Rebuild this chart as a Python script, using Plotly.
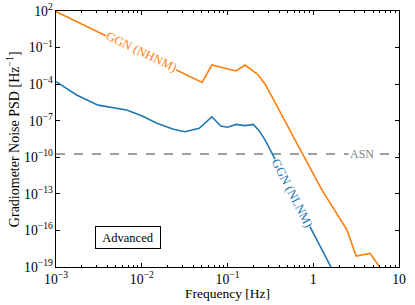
import plotly.graph_objects as go

# ---- data ----
nhnm_freq = [1e-3, 0.0506, 0.0656, 0.126, 0.16, 0.223, 0.275, 1.26, 2.47, 3.16, 4.6, 7.0]
nhnm_psd = [90, 1.4e-4, 3.7e-3, 1.2e-3, 3.7e-3, 6.8e-4, 1e-4, 2.1e-13, 1.1e-16, 8e-19, 1.3e-18, 2e-20]

nlnm_freq = [1e-3, 1.74e-3, 3.09e-3, 6.68e-3, 0.01, 0.015, 0.0234, 0.032, 0.0468, 0.0656,
             0.0836, 0.1, 0.126, 0.16, 0.2, 0.235, 0.275, 1.78]
nlnm_psd = [1.6e-4, 1.3e-5, 1.9e-6, 7.6e-7, 2.6e-7, 6.3e-8, 2e-8, 1.26e-8, 2.4e-8, 2.1e-7,
            3.7e-8, 2.9e-8, 5e-8, 4e-8, 5e-8, 1.45e-8, 2.6e-9, 2.5e-20]

asn_level = 1.9e-10
x_range = [1e-3, 10]

labels = {"nhnm": "GGN (NHNM)", "nlnm": "GGN (NLNM)", "asn": "ASN", "box": "Advanced"}
x_title = "Frequency [Hz]"
y_title = "Gradiometer Noise PSD [Hz<sup>−1</sup>]"

ORANGE = "#ff7f0e"
BLUE = "#1f77b4"
GRAY = "#808080"
FONT = "Liberation Serif"

fig = go.Figure()
fig.add_trace(go.Scatter(x=x_range, y=[asn_level, asn_level], mode="lines",
                         line=dict(color=GRAY, width=1.5, dash="dash"), showlegend=False))
fig.add_trace(go.Scatter(x=nlnm_freq, y=nlnm_psd, mode="lines",
                         line=dict(color=BLUE, width=1.6), showlegend=False))
fig.add_trace(go.Scatter(x=nhnm_freq, y=nhnm_psd, mode="lines",
                         line=dict(color=ORANGE, width=1.6), showlegend=False))

fig.add_annotation(x=-2.0, y=-1.35, xref="x", yref="y", text=labels["nhnm"], showarrow=False,
                   textangle=25.8, font=dict(color=ORANGE, size=12.5, family=FONT),
                   bgcolor="white", borderpad=0)
fig.add_annotation(x=-0.246, y=-12.9, xref="x", yref="y", text=labels["nlnm"], showarrow=False,
                   textangle=62.7, font=dict(color=BLUE, size=12.5, family=FONT),
                   bgcolor="white", borderpad=0)
fig.add_annotation(x=0.57, y=-9.72, xref="x", yref="y", text=labels["asn"], showarrow=False,
                   font=dict(color=GRAY, size=12, family=FONT), bgcolor="white", borderpad=1)
fig.add_annotation(x=0.115, y=0.072, xref="paper", yref="paper", text=labels["box"],
                   showarrow=False, font=dict(color="black", size=12.5, family=FONT),
                   bgcolor="white", bordercolor="black", borderwidth=1, borderpad=3,
                   width=58, height=15)

# axis titles placed as paper annotations for exact positioning
fig.add_annotation(x=0.5, y=-0.104, xref="paper", yref="paper", text=x_title, showarrow=False,
                   xanchor="center", yanchor="middle",
                   font=dict(color="black", size=13.5, family=FONT))
fig.add_annotation(x=-0.125, y=0.5, xref="paper", yref="paper", text=y_title, showarrow=False,
                   xanchor="center", yanchor="middle", textangle=-90,
                   font=dict(color="black", size=14, family=FONT))

axis_common = dict(type="log", showgrid=False, zeroline=False, showline=True, mirror="allticks",
                   linecolor="black", linewidth=1, ticks="inside", tickcolor="black",
                   ticklen=4, exponentformat="power", automargin=False,
                   tickfont=dict(family=FONT, size=11, color="black"))

fig.update_xaxes(**axis_common, range=[-3, 1], dtick=1,
                 minor=dict(ticks="inside", ticklen=2, tickcolor="black", dtick="D1"))
fig.update_yaxes(**axis_common, range=[-19, 2], tick0=2, dtick=3)

fig.update_layout(width=415, height=305, margin=dict(l=56, r=16, t=11, b=38),
                  paper_bgcolor="white", plot_bgcolor="white",
                  font=dict(family=FONT, size=11, color="black"))

# remove the browser's default 8px body margin so the figure sits at the page origin
fig.write_html("out.html", config={"displayModeBar": False},
               post_script="document.body.style.margin='0';")
